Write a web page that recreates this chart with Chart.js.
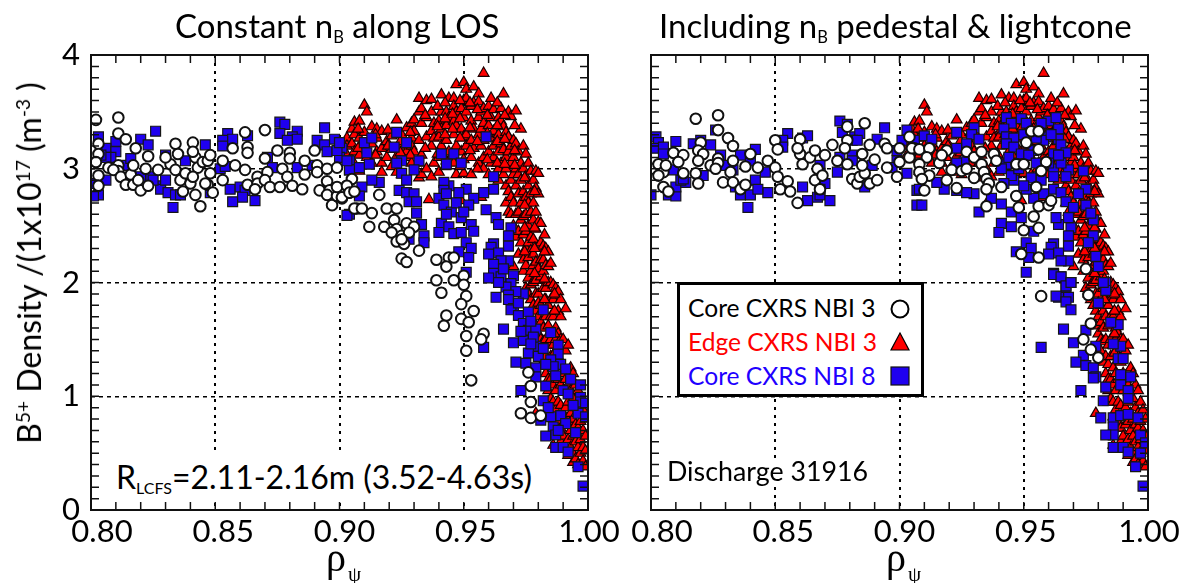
<!DOCTYPE html>
<html>
<head>
<meta charset="utf-8">
<title>B5+ density profiles</title>
<script src="https://cdn.jsdelivr.net/npm/chart.js@4"></script>
<style>
  html, body { margin: 0; background: #fff; }
  #page { position: relative; width: 1185px; height: 583px; overflow: hidden; font-family: Lato, sans-serif; color: #000; }
  canvas { position: absolute; top: 0; }
  #chartLeft { left: 0; }
  #chartRight { left: 620px; }
  .txt { position: absolute; white-space: nowrap; line-height: 1; }
  .sub { font-size: 0.5em; position: relative; top: 0.32em; vertical-align: baseline; }
  .sup { font-size: 0.6em; position: relative; top: -0.55em; vertical-align: baseline; }
  .title { font-size: 33px; top: 9px; }
  .rho { font-family: "Liberation Serif", serif; font-size: 40px; top: 538px; }
  .rho .sub { font-size: 21px; top: 10px; margin-left: 2px; }
  #yTitle { font-size: 32px; left: 29px; top: 263px; transform: translate(-50%, -50%) rotate(-90deg); }
  #rlcfs { left: 112px; top: 455px; height: 46px; padding: 6px 4px 0 4px; box-sizing: border-box; background: #fff; font-size: 32px; }
  #discharge { left: 667px; top: 458px; font-size: 26.8px; background: #fff; }
  #legend { position: absolute; left: 677px; top: 282px; width: 247px; height: 115px; box-sizing: border-box; border: 3px solid #000; background: #fff; }
  #legend .row { position: absolute; left: 8px; font-size: 24.6px; line-height: 1; white-space: nowrap; }
  #legend svg { position: absolute; left: 209px; }
</style>
</head>
<body>
<div id="page">
  <canvas id="chartLeft" width="620" height="583"></canvas>
  <canvas id="chartRight" width="565" height="583"></canvas>
  <div class="txt title" style="left:175px">Constant n<span class="sub">B</span> along LOS</div>
  <div class="txt title" style="left:659px">Including n<span class="sub">B</span> pedestal &amp; lightcone</div>
  <div class="txt" id="yTitle">B<span class="sup">5+</span> Density /(1x10<span class="sup">17</span> (m<span class="sup">-3</span> )</div>
  <div class="txt rho" style="left:326px">ρ<span class="sub">ψ</span></div>
  <div class="txt rho" style="left:886px">ρ<span class="sub">ψ</span></div>
  <div class="txt" id="rlcfs">R<span class="sub">LCFS</span>=2.11-2.16m (3.52-4.63s)</div>
  <div class="txt" id="discharge">Discharge 31916</div>
  <div id="legend">
    <div class="row" style="top:11px">Core CXRS NBI 3</div>
    <svg style="top:13px" width="22" height="22"><circle cx="11" cy="11" r="8.5" fill="#fff" stroke="#000" stroke-width="2"/></svg>
    <div class="row" style="top:45px;color:#f00">Edge CXRS NBI 3</div>
    <svg style="top:46px" width="22" height="22"><polygon points="11,2 20,19 2,19" fill="#f00" stroke="#000" stroke-width="1.2"/></svg>
    <div class="row" style="top:79px;color:#1f00ff">Core CXRS NBI 8</div>
    <svg style="top:80px" width="22" height="22"><rect x="2" y="2" width="18" height="18" fill="#1f00f0" stroke="#111" stroke-width="1.2"/></svg>
  </div>
</div>
<script>
// values: [rho, density]
const leftCore3 = [
  [.802,3.43],[.811,3.45],[.811,3.31],[.814,3.26],[.803,3.22],[.803,3.13],[.802,3.06],[.803,2.94],[.803,2.85],[.807,3.01],
  [.811,3.03],[.811,2.98],[.809,2.99],[.812,2.93],[.814,2.86],[.816,2.95],[.818,3.18],[.817,3.03],[.817,2.86],[.820,2.81],
  [.819,2.90],[.822,3.00],[.823,3.11],[.823,2.85],[.827,2.99],[.832,3.04],[.830,3.10],[.834,3.22],[.835,3.13],[.834,2.99],
  [.836,2.90],[.838,2.96],[.840,2.87],[.837,2.80],[.842,2.77],[.844,2.67],[.841,3.23],[.842,3.10],[.841,3.15],[.843,3.01],
  [.841,2.93],[.845,3.06],[.847,3.07],[.848,3.12],[.848,2.96],[.847,2.86],[.849,2.79],[.846,2.87],[.853,3.07],[.853,2.90],
  [.857,3.18],[.858,3.03],[.862,3.32],[.863,3.19],[.863,3.14],[.862,2.99],[.863,2.86],[.867,2.93],[.867,2.87],[.866,2.82],
  [.870,3.34],[.870,3.09],[.871,2.97],[.870,2.90],[.872,2.84],[.875,3.16],[.877,3.00],[.879,2.93],[.876,2.84],[.880,3.14],
  [.880,3.09],[.881,2.85],[.885,2.82],[.886,3.07],[.886,2.95],[.890,3.16],[.891,3.03],[.891,2.97],[.892,2.81],[.895,3.00],
  [.895,2.89],[.896,2.81],[.895,2.77],[.897,2.68],[.899,3.01],[.899,2.76],[.901,2.74],[.903,2.85],[.904,2.79],[.907,2.65],
  [.905,2.91],[.899,2.84],[.903,2.85],[.901,2.75],[.904,2.79],[.906,2.80],[.906,2.65],[.909,2.65],[.913,2.61],[.912,2.49],
  [.916,2.77],[.919,2.65],[.923,2.65],[.922,2.55],[.918,2.49],[.923,2.47],[.927,2.52],[.930,2.49],[.921,2.44],[.925,2.41],
  [.928,2.44],[.923,2.36],[.926,2.34],[.925,2.38],[.932,2.28],[.925,2.21],[.927,2.18],[.939,2.20],[.944,2.22],[.946,2.22],
  [.943,2.14],[.939,2.02],[.946,2.02],[.950,2.06],[.950,1.98],[.941,1.91],[.951,1.88],[.949,1.81],[.954,1.75],[.943,1.71],
  [.942,1.62],[.949,1.68],[.952,1.65],[.958,1.55],[.957,1.50],[.951,1.53],[.951,1.40],[.953,1.14],[.976,1.21],[.977,1.09],
  [.977,.95],[.973,.85],[.977,.81],[.981,.83]
];
const leftCore8 = [
  [.803,3.28],[.826,3.33],[.820,3.26],[.823,3.21],[.810,3.24],[.806,3.18],[.810,3.15],[.806,2.90],[.803,2.77],[.801,2.76],
  [.802,2.87],[.833,2.66],[.828,2.85],[.828,2.82],[.831,2.79],[.834,2.77],[.836,2.77],[.830,3.12],[.838,3.07],[.846,3.21],
  [.824,2.93],[.820,2.93],[.814,3.03],[.816,3.09],[.855,3.31],[.853,3.25],[.853,3.20],[.857,3.26],[.863,3.29],[.856,2.82],
  [.857,2.71],[.860,2.84],[.862,2.81],[.861,2.75],[.866,2.72],[.852,3.00],[.854,3.02],[.871,3.10],[.876,3.41],[.878,3.39],
  [.876,3.31],[.883,3.33],[.881,3.28],[.883,3.26],[.879,3.25],[.894,3.36],[.891,3.25],[.894,3.21],[.895,3.15],[.898,3.26],
  [.900,3.23],[.901,3.18],[.900,3.10],[.904,3.07],[.904,2.99],[.899,3.16],[.883,3.01],[.889,3.03],[.873,3.01],[.904,2.60],
  [.848,2.79],[.830,2.90],[.816,2.90],[.808,3.10],[.806,3.10],[.804,3.12],[.825,2.90],
  [.900,3.23],[.910,3.23],[.913,3.27],[.911,3.14],[.912,3.04],[.908,3.01],[.904,2.99],[.903,3.07],[.923,3.32],[.927,3.23],
  [.922,3.19],[.932,3.07],[.925,3.07],[.930,2.99],[.923,3.05],[.925,2.96],[.927,2.90],[.916,2.88],[.913,2.90],[.909,2.84],
  [.908,2.76],[.903,2.59],[.924,2.81],[.927,2.79],[.930,2.78],[.928,2.71],[.931,2.71],[.931,2.61],[.933,2.51],[.934,2.41],
  [.934,2.35],[.928,2.38],[.941,3.13],[.946,3.13],[.943,3.04],[.949,3.05],[.959,3.28],[.962,2.93],[.962,2.82],[.958,2.79],
  [.951,2.82],[.954,2.74],[.959,2.64],[.963,2.57],[.964,2.51],[.969,2.48],[.968,2.41],[.968,2.32],[.948,2.79],[.944,2.85],
  [.942,2.88],[.942,2.81],[.940,2.74],[.942,2.68],[.945,2.62],[.949,2.57],[.952,2.68],[.941,2.52],[.940,2.44],[.944,2.49],
  [.946,2.43],[.949,2.44],[.953,2.51],[.954,2.45],[.951,2.35],[.953,2.30],[.948,2.27],[.952,2.22],[.951,2.09],[.962,2.34],
  [.961,2.31],[.964,2.26],[.960,2.25],[.968,2.19],[.965,2.19],[.962,2.16],[.962,2.08],[.965,2.05],[.960,2.04],[.970,2.06],
  [.969,1.99],[.967,1.96],[.974,1.90],[.971,1.92],[.968,1.89],[.963,1.87],[.968,1.85],[.970,1.77],[.969,1.76],[.972,1.71],
  [.976,1.74],[.982,1.76],[.966,1.59],[.974,1.64],[.976,1.58],[.979,1.59],[.985,1.56],[.970,1.47],[.974,1.49],[.979,1.44],
  [.976,1.38],[.980,1.35],[.988,1.45],[.988,1.37],[.985,1.32],[.971,1.30],[.975,1.29],[.979,1.25],[.979,1.17],[.989,1.28],
  [.991,1.24],[.986,1.26],[.993,1.15],[.997,1.10],[.983,1.09],[.990,1.05],[.973,1.05],[.997,.99],[.997,.95],[.982,.96],
  [.999,.94],[.996,.85],[.999,.82],[.989,.83],[.985,.82],[.981,.79],[.986,.73],[.987,.66],[.983,.65],[.987,.55],
  [.990,.55],[.992,.51],[.996,.38],[.998,.21],[.958,1.43],
  [.943,2.78],[.947,2.70],[.943,2.60],[.950,2.62],[.966,2.12],[.964,2.00],[.972,1.82],[.977,1.66],[.978,1.52],[.982,1.42],
  [.983,1.28],[.987,1.18],[.992,1.02],[.994,.92],[.991,.76],[.995,.68],[.988,.70],[.984,.90],[.977,1.46],[.973,1.57]
];
// edge series is the same in both panels: [rho, density, density, ...]
const edgeColumns = [
  [.903,3.27,3.12,3.20],[.905,3.35,3.22,3.08],[.906,3.41,3.30,3.15],[.908,3.42,3.27,3.12,2.98],[.910,3.56,3.32,3.20],
  [.911,3.50,3.10],[.913,3.37,3.22,3.05],[.915,3.27,3.15,3.35],[.917,3.33,3.18,3.05,2.97],[.919,3.24,3.10],
  [.921,3.29,3.17,3.02],[.923,3.43,3.11,2.97],[.925,3.30,3.20,2.95],[.927,3.36,3.10,3.15],[.929,3.40,3.27,3.20,3.05],
  [.930,3.43,3.33,3.15],[.932,3.62,3.50,3.25,3.05,2.92],[.933,3.53,3.40,3.12,2.95],[.935,3.60,3.45,3.28,3.00],[.936,2.73],
  [.937,3.61,3.50,3.33,3.20,2.93],[.938,3.40,3.27,3.05],[.940,3.42,3.28,3.10,2.97],[.941,3.65,3.50,3.35,3.20],
  [.943,3.50,3.38,3.25,3.07],[.944,3.62,3.45,3.15],[.946,3.62,3.55,3.42,3.30,3.05],[.947,3.74,3.50,3.38,3.20,2.95],
  [.949,3.53,3.35,3.15,2.72],[.950,3.76,3.60,3.45,3.28,3.08,2.96],[.951,3.70,3.62,3.50,3.30,3.20],[.953,3.55,3.42,3.25,3.10,2.95],
  [.954,3.72,3.58,3.35,3.18],[.956,3.66,3.59,3.45,3.30,3.05],[.957,3.50,3.35,3.20,2.75],[.958,3.84,3.53,3.40,3.25,3.10,3.00],
  [.960,3.55,3.38,3.15,2.95],[.961,3.62,3.45,3.27,3.05],[.962,3.52,3.33,3.20,3.10],[.964,3.45,3.30,3.15,3.00,2.90],
  [.965,3.53,3.42,3.22,3.05],[.966,3.66,3.37,3.17,2.95],[.967,3.32,3.10,3.00,2.85,2.70],[.968,3.50,3.28,3.15,2.80,2.62],
  [.969,3.46,3.20,3.05,2.90,2.75,2.60],[.970,3.25,3.10,2.95,2.70,2.50,2.14],[.971,3.51,3.22,3.00,2.85,2.60,2.40],
  [.972,3.15,2.95,2.78,2.62,2.45,2.25],[.973,3.35,3.05,2.90,2.70,2.55,2.35],[.974,3.20,3.00,2.80,2.58,2.42,2.20,2.10],
  [.975,3.13,2.93,2.75,2.60,2.45,2.30,2.15,1.95],[.976,3.05,2.85,2.70,2.50,2.35,2.22,2.04,1.90],
  [.977,2.98,2.78,2.62,2.40,2.28,2.10,1.98,1.85],[.978,2.90,2.70,2.55,2.38,2.25,2.15,2.00,1.80],
  [.979,2.98,2.83,2.62,2.47,2.30,2.18,2.02,1.90,1.75,1.62,.85],[.980,2.96,2.78,2.53,2.30,2.12,1.90,1.82,1.70,1.55],
  [.981,2.52,2.35,2.20,2.05,1.80,1.65,1.50,1.40],[.982,2.32,2.20,2.10,1.95,1.75,1.60,1.48,1.30],
  [.983,2.30,2.15,1.95,1.85,1.70,1.50,1.35,1.20],[.984,2.27,2.14,2.00,1.80,1.62,1.45,1.28,1.15,1.05,.95],
  [.985,2.17,2.00,1.85,1.70,1.50,1.35,1.15,.98],[.986,1.98,1.85,1.70,1.45,1.25,1.10,.95,.82,.57],
  [.987,1.95,1.89,1.60,1.50,1.40,1.20,1.05,.88,.72],[.988,1.92,1.75,1.55,1.35,1.15,.95,.78],
  [.989,1.85,1.70,1.50,1.30,1.10,.92,.72,.60],[.990,1.50,1.20,1.05,.85,.65],[.991,1.77,1.40,1.15,.90,.75,.55],
  [.992,1.45,1.10,.95,.78,.62,.48],[.993,1.25,1.05,.85,.70,.55],[.994,1.20,.98,.80,.65,.50,.42],[.995,1.10,.90,.75,.60,.45],
  [.996,1.05,.85,.72,.55,.40],[.997,.95,.78,.62,.50],[.998,.88,.70,.55,.43],[.999,.80,.65,.52,.38],
  // second pass over the crowded part of the cloud
  [.9345,3.47,3.18],[.9395,3.55,3.37,3.13],[.9425,3.58,3.44,3.30,3.02],[.9455,3.48,3.35,3.12],[.9485,3.60,3.44,3.27,3.02],
  [.9525,3.58,3.36,3.16],[.9555,3.52,3.24,3.00],[.9595,3.47,3.31,3.08],[.9635,3.58,3.38,3.24,3.05],[.9665,3.47,3.26,3.04],
  [.9705,3.38,3.16,3.03],[.9745,2.92,2.68,2.48,2.27],[.9785,2.80,2.48,2.30,2.08],[.9825,2.42,2.27,2.03,1.85],[.9865,1.90,1.75,1.55,1.38],
  [.9195,3.34,3.20],[.9245,3.24,3.14],[.9145,3.30,3.12],[.9285,3.32,3.12],[.9075,3.35,3.18]
];
const rightCore3 = [
  [.818,3.44],[.827,3.47],[.827,3.34],[.831,3.27],[.833,3.20],[.820,3.23],[.819,3.16],[.821,3.13],[.809,3.14],[.813,3.12],
  [.811,3.06],[.819,3.07],[.824,3.03],[.827,3.09],[.827,3.05],[.833,3.07],[.818,2.96],[.813,2.96],[.819,2.87],[.829,2.88],
  [.826,3.00],[.832,2.97],[.833,2.88],[.836,2.82],[.838,2.86],[.838,3.02],[.840,3.13],[.843,3.01],[.847,3.07],[.850,3.25],
  [.851,3.17],[.850,3.01],[.851,2.93],[.852,2.82],[.855,2.89],[.856,2.80],[.859,2.70],[.860,3.26],[.860,3.13],[.859,3.18],
  [.861,3.04],[.864,3.10],[.866,3.16],[.867,3.00],[.866,2.90],[.868,2.82],[.869,2.94],[.870,3.12],[.873,3.21],[.875,3.07],
  [.879,3.37],[.886,3.40],[.879,3.25],[.878,3.18],[.879,3.04],[.881,2.91],[.883,2.87],[.884,2.93],[.885,3.13],[.886,2.96],
  [.885,3.03],[.888,3.21],[.888,2.87],[.890,3.08],[.891,2.90],[.894,3.22],[.895,3.18],[.895,3.01],[.899,2.93],[.900,3.18],
  [.900,3.06],[.904,3.28],[.904,3.10],[.906,3.18],[.801,3.00],[.803,3.04],[.805,2.97],[.806,3.03],[.805,2.84],[.807,2.80],
  [.803,2.94],[.905,3.18],[.908,3.17],[.912,3.18],[.911,3.10],[.908,3.04],[.908,2.97],[.912,2.94],[.909,2.91],[.910,2.81],
  [.916,3.05],[.919,3.16],[.917,3.12],[.919,2.90],[.923,2.83],[.921,2.99],[.925,2.98],[.927,3.00],[.930,2.92],[.927,3.15],
  [.930,3.10],[.933,3.15],[.933,3.04],[.934,2.97],[.935,2.91],[.936,2.87],[.935,2.82],[.938,3.13],[.939,3.07],[.941,2.84],
  [.935,2.67],[.947,3.04],[.950,3.04],[.953,3.33],[.956,3.33],[.951,3.23],[.956,3.17],[.959,3.06],[.957,2.98],[.955,2.84],
  [.947,2.76],[.948,2.66],[.956,2.67],[.960,2.68],[.961,2.72],[.954,2.58],[.956,2.48],[.950,2.46],[.949,2.25],[.956,2.22],
  [.975,2.12],[.976,1.89],[.957,1.88],[.977,1.64],[.974,1.50],[.977,1.41],[.980,1.34]
];
const rightCore8 = [
  [.802,3.28],[.803,3.23],[.802,3.18],[.805,3.19],[.810,3.24],[.800,2.77],[.807,2.77],[.810,2.76],[.810,2.84],[.814,2.88],
  [.812,2.90],[.809,2.99],[.821,2.94],[.826,3.34],[.824,3.21],[.820,3.25],[.842,3.17],[.828,3.12],[.836,2.77],[.840,2.77],
  [.839,2.66],[.847,2.79],[.842,2.90],[.843,2.82],[.834,2.84],[.836,3.12],[.840,3.07],[.846,2.97],[.855,3.31],[.853,3.25],
  [.861,3.27],[.863,3.29],[.853,3.19],[.863,2.72],[.867,2.75],[.868,2.77],[.872,2.72],[.870,2.87],[.868,2.82],[.861,2.84],
  [.868,3.03],[.876,3.42],[.879,3.39],[.877,3.32],[.882,3.28],[.884,3.31],[.881,3.25],[.883,3.25],[.894,3.36],[.891,3.26],
  [.886,2.84],[.875,2.97],[.876,3.10],[.903,3.34],[.901,3.25],[.899,3.07],[.907,2.81],[.907,2.68],[.899,3.16],[.897,3.01],
  [.889,3.03],[.881,3.12],[.881,3.07],[.868,2.96],[.813,2.91],[.805,3.13],[.817,3.22],[.833,2.99],[.830,3.03],
  [.906,3.25],[.910,3.29],[.913,3.26],[.923,3.32],[.930,3.36],[.929,3.30],[.927,3.22],[.923,3.18],[.932,3.26],[.943,3.45],
  [.945,3.40],[.942,3.35],[.943,3.28],[.946,3.27],[.949,3.44],[.951,3.40],[.943,3.22],[.946,3.19],[.949,3.13],[.960,3.42],
  [.963,3.45],[.964,3.35],[.959,3.28],[.964,3.26],[.962,3.13],[.965,3.21],[.967,3.14],[.943,3.04],[.962,3.00],[.968,2.99],
  [.974,2.98],[.967,2.93],[.962,2.93],[.975,2.82],[.962,2.82],[.965,2.79],[.958,2.78],[.954,2.74],[.951,2.82],[.946,2.90],
  [.945,2.94],[.942,2.87],[.937,2.74],[.941,2.69],[.932,2.62],[.930,2.78],[.927,2.79],[.923,2.81],[.918,2.82],[.909,2.68],
  [.908,2.82],[.915,2.88],[.926,3.06],[.923,3.05],[.903,2.96],[.945,2.62],[.949,2.57],[.941,2.52],[.940,2.44],[.945,2.49],
  [.954,2.45],[.951,2.35],[.953,2.30],[.947,2.27],[.952,2.22],[.951,2.09],[.967,2.71],[.970,2.66],[.975,2.68],[.968,2.57],
  [.964,2.51],[.963,2.57],[.969,2.48],[.968,2.41],[.968,2.32],[.978,2.55],[.977,2.61],[.978,2.41],[.976,2.35],[.962,2.34],
  [.961,2.31],[.964,2.26],[.960,2.25],[.968,2.19],[.965,2.19],[.979,2.23],[.980,2.14],[.962,2.08],[.965,2.05],[.969,2.00],
  [.967,1.96],[.983,2.00],[.983,1.93],[.968,1.87],[.964,1.87],[.954,3.16],[.958,3.25],[.950,3.30],[.955,3.27],[.957,3.40],
  [.952,3.12],[.961,3.30],[.955,3.05],[.965,3.05],[.953,2.92],[.948,3.00],[.944,3.10],[.941,3.00],[.950,2.85],[.957,2.90],
  [.960,3.05],[.964,3.12],[.972,2.78],
  [.962,2.07],[.965,2.05],[.967,1.97],[.969,2.00],[.963,1.88],[.967,1.83],[.969,1.76],[.982,2.00],[.980,1.82],[.966,1.59],
  [.988,1.63],[.985,1.65],[.975,1.58],[.970,1.47],[.957,1.43],[.989,1.44],[.986,1.46],[.974,1.36],[.979,1.44],[.971,1.30],
  [.988,1.33],[.990,1.33],[.975,1.27],[.978,1.25],[.993,1.17],[.989,1.19],[.979,1.17],[.978,1.16],[.983,1.08],[.989,1.10],
  [.992,1.05],[.973,1.05],[.992,.98],[.982,.96],[.981,.81],[.986,.81],[.989,.83],[.992,.84],[.996,.81],[.986,.73],
  [.986,.66],[.983,.66],[.997,.66],[.999,.59],[.986,.55],[.990,.55],[.997,.50],[.992,.51],[.995,.38],[.998,.21]
];
const xLabels = ['0.80', '0.85', '0.90', '0.95', '1.00'];
const yLabels = ['0', '1', '2', '3', '4'];
// the printed x labels sit a little right of their ticks
const xLabelShift = [11, 8, 5, 2, 1];

const edge3 = edgeColumns.flatMap(c => c.slice(1).map(d => [c[0], d]));
const toPoints = list => list.map(p => ({ x: p[0], y: p[1] }));
const FONT = 'Lato, sans-serif';

// frame, inward ticks on all four sides and the x tick labels
const framePlugin = {
  id: 'frame',
  afterDraw(chart) {
    const { ctx, chartArea: a, scales } = chart;
    ctx.save();
    ctx.strokeStyle = '#111';
    ctx.lineWidth = 1.5;
    ctx.beginPath();
    scales.x.ticks.forEach(t => {
      const px = scales.x.getPixelForValue(t.value);
      ctx.moveTo(px, a.top); ctx.lineTo(px, a.top + 8);
      ctx.moveTo(px, a.bottom); ctx.lineTo(px, a.bottom - 8);
    });
    scales.y.ticks.forEach(t => {
      const py = scales.y.getPixelForValue(t.value);
      ctx.moveTo(a.left, py); ctx.lineTo(a.left + 8, py);
      ctx.moveTo(a.right, py); ctx.lineTo(a.right - 8, py);
    });
    ctx.stroke();
    ctx.lineWidth = 2;
    ctx.strokeRect(a.left, a.top, a.right - a.left, a.bottom - a.top);
    ctx.fillStyle = '#000';
    ctx.font = '31px ' + FONT;
    ctx.textAlign = 'center';
    ctx.textBaseline = 'middle';
    xLabels.forEach((label, i) => {
      ctx.fillText(label, scales.x.getPixelForValue(parseFloat(label)) + xLabelShift[i], 532);
    });
    ctx.restore();
  }
};

function makeChart(id, core3, core8, showY, leftGutter, rightPad) {
  return new Chart(document.getElementById(id), {
    type: 'scatter',
    data: {
      // first dataset is painted last
      datasets: [
        { label: 'Core CXRS NBI 3', data: toPoints(core3), pointStyle: 'circle', pointRadius: 5.3, pointBorderWidth: 2, backgroundColor: '#fff', borderColor: '#111', clip: 0 },
        { label: 'Core CXRS NBI 8', data: toPoints(core8), pointStyle: 'rect', pointRadius: 7, pointBorderWidth: 1.2, backgroundColor: '#1f00f0', borderColor: '#161616', clip: 0 },
        { label: 'Edge CXRS NBI 3', data: toPoints(edge3), pointStyle: 'triangle', pointRadius: 6.2, pointBorderWidth: 1.2, backgroundColor: '#ff0000', borderColor: '#1a0000', clip: 0 }
      ]
    },
    options: {
      responsive: false,
      animation: false,
      devicePixelRatio: 1,
      layout: { padding: { top: 55, right: rightPad, bottom: 0, left: 0 } },
      plugins: { legend: { display: false }, tooltip: { enabled: false } },
      scales: {
        x: {
          type: 'linear', min: 0.8, max: 1.0,
          afterFit: s => { s.height = 73; },
          border: { display: false, dash: [3, 5] },
          grid: {
            drawTicks: false,
            lineWidth: 2,
            color: c => {
              const v = Math.round(c.tick.value * 100);
              return v % 5 === 0 && v > 80 && v < 100 ? '#000' : 'transparent';
            }
          },
          ticks: { display: false, stepSize: 0.01, autoSkip: false }
        },
        y: {
          type: 'linear', min: 0, max: 4,
          afterFit: s => { s.width = leftGutter; },
          border: { display: false, dash: [4, 4] },
          grid: {
            drawTicks: false,
            lineWidth: 1.5,
            color: c => {
              const v = Math.round(c.tick.value * 10);
              return v % 10 === 0 && v > 0 && v < 40 ? '#000' : 'transparent';
            }
          },
          ticks: {
            display: showY,
            stepSize: 0.1,
            autoSkip: false,
            padding: 11,
            color: '#000',
            font: { family: FONT, size: 31 },
            callback: v => {
              const n = Math.round(v * 10);
              return n % 10 === 0 ? yLabels[n / 10] : '';
            }
          }
        }
      }
    },
    plugins: [framePlugin]
  });
}

makeChart('chartLeft', leftCore3, leftCore8, true, 91, 32);
makeChart('chartRight', rightCore3, rightCore8, false, 31, 37);
</script>
</body>
</html>
